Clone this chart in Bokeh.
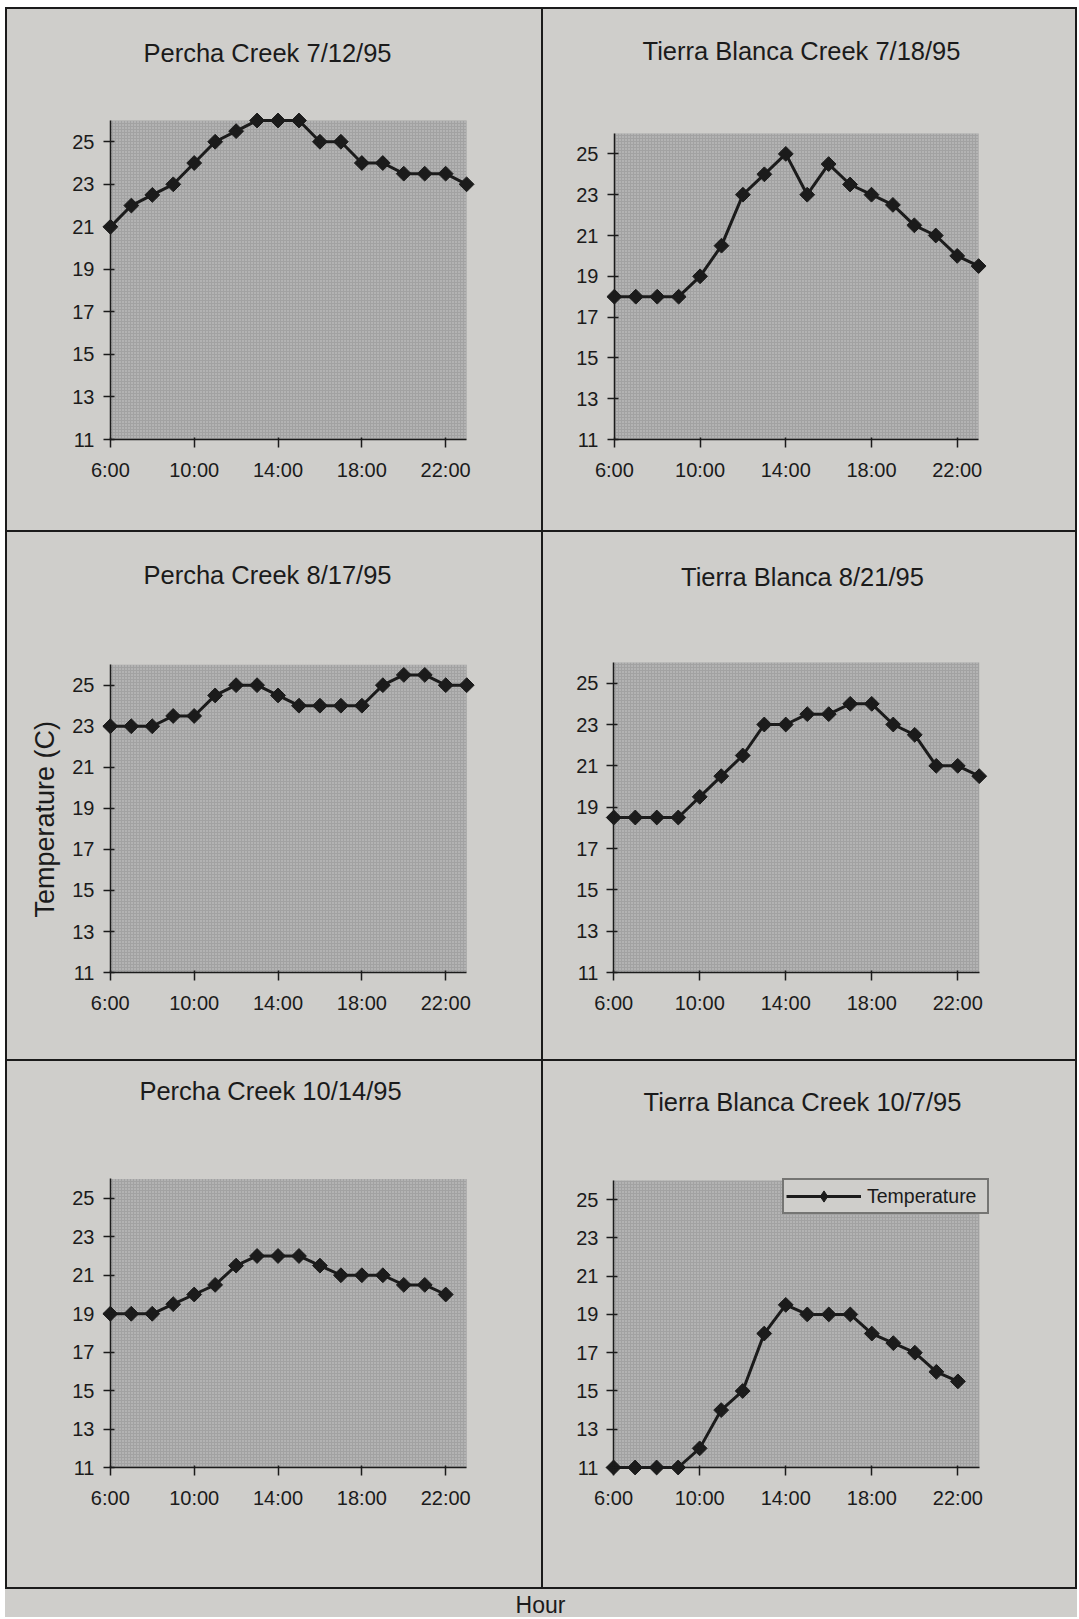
import numpy as np
from bokeh.plotting import figure
from bokeh.models import (Range1d, FixedTicker, Label, Legend, LegendItem,
                          GridBox, LinearAxis, Column, Title)
from bokeh.embed import file_html
from bokeh.resources import INLINE
from bokeh.core.properties import value

# ---------------- data ----------------
hours_full = [6, 7, 8, 9, 10, 11, 12, 13, 14, 15, 16, 17, 18, 19, 20, 21, 22, 23]
hours_short = [6, 7, 8, 9, 10, 11, 12, 13, 14, 15, 16, 17, 18, 19, 20, 21, 22]

percha_0712 = [21, 22, 22.5, 23, 24, 25, 25.5, 26, 26, 26, 25, 25, 24, 24, 23.5, 23.5, 23.5, 23]
tierra_0718 = [18, 18, 18, 18, 19, 20.5, 23, 24, 25, 23, 24.5, 23.5, 23, 22.5, 21.5, 21, 20, 19.5]
percha_0817 = [23, 23, 23, 23.5, 23.5, 24.5, 25, 25, 24.5, 24, 24, 24, 24, 25, 25.5, 25.5, 25, 25]
tierra_0821 = [18.5, 18.5, 18.5, 18.5, 19.5, 20.5, 21.5, 23, 23, 23.5, 23.5, 24, 24, 23, 22.5, 21, 21, 20.5]
percha_1014 = [19, 19, 19, 19.5, 20, 20.5, 21.5, 22, 22, 22, 21.5, 21, 21, 21, 20.5, 20.5, 20]
tierra_1007 = [11, 11, 11, 11, 12, 14, 15, 18, 19.5, 19, 19, 19, 18, 17.5, 17, 16, 15.5]

titles = ["Percha Creek 7/12/95", "Tierra Blanca Creek 7/18/95",
          "Percha Creek 8/17/95", "Tierra Blanca 8/21/95",
          "Percha Creek 10/14/95", "Tierra Blanca Creek 10/7/95"]

x_ticks = [6, 10, 14, 18, 22]
x_tick_labels = ["6:00", "10:00", "14:00", "18:00", "22:00"]
y_ticks = [11, 13, 15, 17, 19, 21, 23, 25]
y_axis_title = "Temperature (C)"
x_axis_title = "Hour"
legend_label = "Temperature"

X_START, X_END = 6, 23
Y_START, Y_END = 11, 26

# ---------------- styling / layout ----------------
PAPER = "#cfcecb"
INK = "#1b1b1b"
FONT = "Liberation Sans"
PAD = 12       # px of frame around the shaded plot area (room for edge markers)
TOPM = 4       # px of border above the frame
TITLE_FIX = 9  # baseline correction for the title labels

TOP0 = 7
COL_X = [7, 543]
COL_W = [534, 532]
ROW_Y = [TOP0 + 2, TOP0 + 2 + 521 + 2, TOP0 + 2 + 521 + 2 + 527 + 2]
ROW_H = [521, 527, 526]

# plot-area rectangles (local px: x0, y0 from top, x1, y1) and title anchors (page px)
panels = [
    dict(hours=hours_full, temps=percha_0712, r=0, c=0, gray=(100, 111, 459, 430), tpos=(264, 61)),
    dict(hours=hours_full, temps=tierra_0718, r=0, c=1, gray=(67, 124, 435, 430), tpos=(797, 59)),
    dict(hours=hours_full, temps=percha_0817, r=1, c=0, gray=(103, 133, 466, 443), tpos=(267, 586)),
    dict(hours=hours_full, temps=tierra_0821, r=1, c=1, gray=(70, 130, 459, 440), tpos=(801, 585)),
    dict(hours=hours_short, temps=percha_1014, r=2, c=0, gray=(101, 121, 463, 419), tpos=(268, 1112)),
    dict(hours=hours_short, temps=tierra_1007, r=2, c=1, gray=(71, 119, 467, 406), tpos=(802, 1110)),
]


def style_axis(ax):
    ax.axis_line_color = INK
    ax.axis_line_width = 1.5
    ax.major_tick_line_color = INK
    ax.major_tick_line_width = 1.5
    ax.minor_tick_out = 0
    ax.minor_tick_in = 0
    ax.major_label_text_font = FONT
    ax.major_label_text_font_size = "20px"
    ax.major_label_text_color = INK


def make_panel(i, spec):
    W = COL_W[spec["c"]]
    H = ROW_H[spec["r"]]
    ox, oy = COL_X[spec["c"]], ROW_Y[spec["r"]]
    gx0, gy0, gx1, gy1 = spec["gray"]
    fl = gx0 - PAD
    fr = W - gx1 - PAD
    fb = H - gy1 - PAD
    dx = (X_END - X_START) / (gx1 - gx0)
    dy = (Y_END - Y_START) / (gy1 - gy0)
    p = figure(width=W, height=H,
               x_range=Range1d(X_START - PAD * dx, X_END + PAD * dx),
               y_range=Range1d(Y_START - PAD * dy, Y_END + (gy0 - TOPM) * dy),
               output_backend="svg", toolbar_location=None,
               x_axis_type=None, y_axis_type=None,
               min_border_left=fl, min_border_top=TOPM,
               min_border_right=fr, min_border_bottom=fb,
               outline_line_color=None,
               background_fill_color=None, border_fill_color=None,
               styles={"background-color": PAPER})
    p.grid.visible = False

    # shaded plot area
    p.quad(left=[X_START], right=[X_END], bottom=[Y_START], top=[Y_END],
           fill_color="#a2a2a2", line_color=None,
           hatch_pattern=".", hatch_color="#cccccc", hatch_scale=3, hatch_weight=1.2)

    # axis lines and crossing ticks, drawn at the edges of the shaded area
    xline = LinearAxis(fixed_location=Y_START, bounds=(X_START, X_END),
                       ticker=FixedTicker(ticks=x_ticks, minor_ticks=[]),
                       major_label_overrides={t: "" for t in x_ticks})
    yline = LinearAxis(fixed_location=X_START, bounds=(Y_START, Y_END),
                       ticker=FixedTicker(ticks=y_ticks, minor_ticks=[]),
                       major_label_overrides={t: "" for t in y_ticks})
    for ax in (xline, yline):
        style_axis(ax)
    xline.major_tick_in = 2
    xline.major_tick_out = 8
    yline.major_tick_in = 4
    yline.major_tick_out = 7
    p.add_layout(xline, "below")
    p.add_layout(yline, "left")

    # tick labels in the side panels
    xlab = LinearAxis(bounds=(X_START, X_END),
                      ticker=FixedTicker(ticks=x_ticks, minor_ticks=[]),
                      major_label_overrides={t: l for t, l in zip(x_ticks, x_tick_labels)})
    ylab = LinearAxis(bounds=(Y_START, Y_END),
                      ticker=FixedTicker(ticks=y_ticks, minor_ticks=[]))
    for ax in (xlab, ylab):
        style_axis(ax)
        ax.axis_line_color = None
        ax.major_tick_in = 0
        ax.major_tick_out = 0
    xlab.major_label_standoff = 7
    ylab.major_label_standoff = 4
    p.add_layout(xlab, "below")
    p.add_layout(ylab, "left")

    if i == 2:
        # y title, anchored from the bottom of the frame
        p.add_layout(Title(text=y_axis_title, align="left", offset=67, standoff=20,
                           text_font=FONT, text_font_size="27px",
                           text_font_style="normal", text_color=INK), "left")

    # diamond used for the legend symbol (hidden beneath the rotated squares)
    dm = p.scatter(spec["hours"], spec["temps"], marker="diamond", size=12,
                   fill_color=INK, line_color=INK)
    ln = p.line(spec["hours"], spec["temps"], line_width=3, line_color=INK)
    p.scatter(spec["hours"], spec["temps"], marker="square", angle=np.pi / 4,
              size=10.5, fill_color=INK, line_color=INK)

    cx, base = spec["tpos"]
    frame_bottom_page = oy + gy1 + PAD
    p.add_layout(Label(x=cx - (ox + fl), y=frame_bottom_page - base + TITLE_FIX,
                       x_units="screen", y_units="screen", text=titles[i],
                       text_align="center", text_baseline="alphabetic",
                       text_font=FONT, text_font_size="25.5px", text_color=INK))

    if i == 5:
        leg = Legend(items=[LegendItem(label=legend_label, renderers=[ln, dm])],
                     location=(180, 265),
                     glyph_width=75, glyph_height=28, label_height=28,
                     label_width=118, padding=2, spacing=0, label_standoff=6,
                     margin=0, border_line_color=INK, border_line_width=2,
                     background_fill_color=PAPER, background_fill_alpha=1.0,
                     label_text_font=FONT, label_text_font_size="19.5px",
                     label_text_color=INK)
        p.add_layout(leg)
    return p


figs = [make_panel(i, s) for i, s in enumerate(panels)]

grid = GridBox(children=[(f, s["r"], s["c"]) for f, s in zip(figs, panels)],
               spacing=2, styles={"background-color": INK, "padding": "2px"})

HOUR_W, HOUR_H = 1072, 28
hour = figure(width=HOUR_W, height=HOUR_H, x_range=Range1d(0, HOUR_W), y_range=Range1d(0, HOUR_H),
              output_backend="svg", toolbar_location=None,
              x_axis_type=None, y_axis_type=None, outline_line_color=None,
              background_fill_color=None, border_fill_color=None,
              styles={"background-color": PAPER},
              min_border_left=0, min_border_right=0, min_border_top=0, min_border_bottom=0)
hour.grid.visible = False
hour.text(x=[535], y=[13], text=[x_axis_title], text_align="center",
          text_baseline="middle", text_font=value(FONT), text_font_size="23px",
          text_color=INK)

root = Column(children=[grid, hour], spacing=0,
              styles={"padding-left": "5px", "padding-top": "%dpx" % TOP0})

html = file_html(root, INLINE)
html = html.replace("<body>", '<body style="background-color:%s;">' % PAPER, 1)
open("out.html", "w").write(html)
